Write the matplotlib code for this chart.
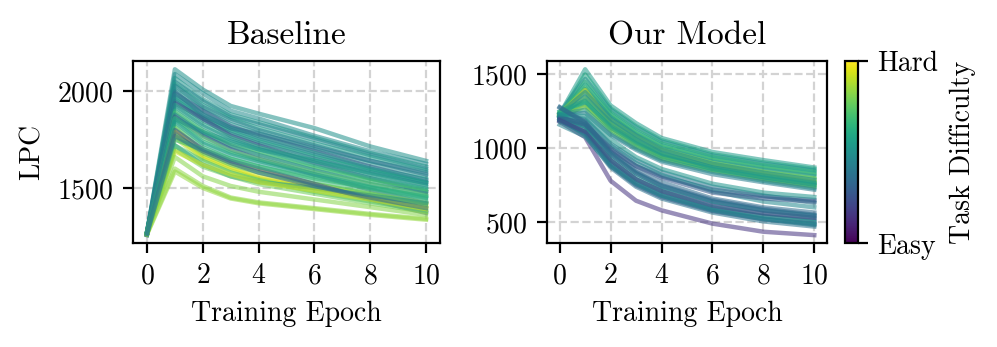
import numpy as np
import matplotlib
matplotlib.use("Agg")
import matplotlib.pyplot as plt
from matplotlib.cm import ScalarMappable
from matplotlib.colors import Normalize

plt.rcParams['font.family'] = 'serif'
plt.rcParams['font.serif'] = ['cmr10']
plt.rcParams['mathtext.fontset'] = 'cm'
plt.rcParams['axes.formatter.use_mathtext'] = True

# Training epochs where LPC was measured
epochs = [0, 1, 2, 3, 4, 6, 8, 10]

# Baseline: task difficulty (0 = easy, 1 = hard) and LPC per epoch
baseline_difficulty = [0.50, 0.48, 0.52, 0.46, 0.55, 0.44, 0.50, 0.30, 0.53, 0.47,
                       0.58, 0.42, 0.25, 0.60, 0.50, 0.65, 0.70, 0.45, 0.28, 0.72,
                       0.62, 0.55, 0.90, 0.68, 0.93, 0.95, 0.88, 0.75, 0.22, 0.48,
                       0.70, 0.78, 0.92, 0.82, 0.83, 0.84, 0.40, 0.52, 0.66, 0.35]
baseline_lpc = [
    [1265, 2115, 2010, 1925, 1885, 1810, 1715, 1640],
    [1260, 2090, 1990, 1900, 1860, 1770, 1690, 1625],
    [1270, 2070, 1960, 1880, 1840, 1760, 1680, 1610],
    [1258, 2050, 1950, 1870, 1830, 1750, 1670, 1600],
    [1262, 2040, 1930, 1860, 1810, 1730, 1660, 1590],
    [1268, 2030, 1920, 1850, 1800, 1720, 1640, 1580],
    [1255, 2010, 1905, 1830, 1785, 1700, 1625, 1560],
    [1265, 1990, 1900, 1820, 1770, 1690, 1610, 1540],
    [1272, 1980, 1880, 1810, 1760, 1680, 1600, 1545],
    [1260, 1970, 1870, 1800, 1750, 1670, 1600, 1530],
    [1266, 1960, 1860, 1790, 1740, 1660, 1590, 1525],
    [1262, 1950, 1850, 1780, 1730, 1650, 1575, 1515],
    [1258, 1940, 1860, 1770, 1720, 1630, 1550, 1480],
    [1270, 1930, 1830, 1760, 1710, 1640, 1570, 1505],
    [1264, 1920, 1820, 1750, 1700, 1620, 1550, 1495],
    [1260, 1900, 1800, 1730, 1690, 1610, 1545, 1490],
    [1268, 1890, 1790, 1720, 1675, 1600, 1535, 1480],
    [1262, 1880, 1780, 1715, 1670, 1590, 1520, 1470],
    [1256, 1870, 1770, 1700, 1650, 1570, 1490, 1420],
    [1266, 1860, 1760, 1690, 1650, 1580, 1520, 1460],
    [1262, 1850, 1740, 1680, 1640, 1570, 1505, 1450],
    [1270, 1840, 1730, 1670, 1630, 1560, 1500, 1445],
    [1264, 1810, 1690, 1630, 1590, 1520, 1470, 1420],
    [1260, 1820, 1710, 1650, 1610, 1540, 1480, 1430],
    [1262, 1790, 1670, 1610, 1560, 1510, 1460, 1410],
    [1266, 1770, 1660, 1600, 1550, 1500, 1455, 1400],
    [1258, 1760, 1650, 1590, 1545, 1495, 1445, 1395],
    [1264, 1780, 1680, 1620, 1580, 1520, 1465, 1415],
    [1260, 1800, 1700, 1640, 1600, 1520, 1440, 1370],
    [1268, 1720, 1620, 1560, 1530, 1500, 1460, 1420],
    [1262, 1720, 1640, 1580, 1540, 1480, 1430, 1380],
    [1266, 1700, 1610, 1560, 1520, 1470, 1420, 1375],
    [1260, 1690, 1620, 1570, 1530, 1485, 1440, 1390],
    [1264, 1660, 1560, 1510, 1480, 1440, 1400, 1360],
    [1262, 1600, 1510, 1450, 1425, 1395, 1365, 1340],
    [1258, 1585, 1500, 1445, 1420, 1390, 1360, 1335],
    [1268, 2000, 1880, 1810, 1780, 1710, 1640, 1570],
    [1260, 1860, 1790, 1740, 1700, 1640, 1580, 1525],
    [1264, 1750, 1700, 1650, 1610, 1550, 1500, 1455],
    [1262, 1770, 1690, 1630, 1580, 1510, 1450, 1395],
]

# Our model
ours_difficulty = [0.55, 0.60, 0.50, 0.65, 0.58, 0.70, 0.52, 0.92, 0.88, 0.80,
                   0.75, 0.62, 0.48, 0.45, 0.68, 0.85, 0.55, 0.50, 0.42, 0.57,
                   0.15, 0.30, 0.25, 0.22, 0.35, 0.40, 0.45, 0.48, 0.50, 0.43,
                   0.38, 0.47, 0.28, 0.52, 0.20, 0.33, 0.44, 0.36]
ours_lpc = [
    [1230, 1535, 1290, 1170, 1070, 975, 920, 870],
    [1220, 1500, 1270, 1150, 1055, 960, 905, 860],
    [1240, 1470, 1260, 1140, 1045, 950, 895, 850],
    [1210, 1450, 1240, 1120, 1030, 940, 885, 840],
    [1225, 1430, 1230, 1110, 1020, 930, 875, 830],
    [1235, 1410, 1220, 1100, 1010, 920, 865, 820],
    [1215, 1400, 1210, 1090, 1000, 910, 855, 810],
    [1230, 1395, 1170, 1050, 960, 890, 825, 775],
    [1220, 1340, 1160, 1040, 950, 880, 820, 770],
    [1240, 1370, 1190, 1080, 990, 900, 840, 795],
    [1210, 1330, 1180, 1070, 980, 890, 835, 790],
    [1225, 1310, 1150, 1050, 960, 870, 815, 765],
    [1235, 1380, 1200, 1085, 990, 895, 835, 785],
    [1205, 1290, 1140, 1030, 945, 860, 800, 750],
    [1245, 1300, 1130, 1020, 935, 855, 795, 745],
    [1220, 1280, 1120, 1010, 930, 850, 790, 740],
    [1230, 1260, 1100, 1000, 920, 840, 780, 730],
    [1215, 1350, 1175, 1060, 970, 870, 805, 755],
    [1225, 1240, 1090, 990, 910, 825, 770, 720],
    [1250, 1320, 1140, 1035, 950, 860, 805, 760],
    [1180, 1075, 780, 645, 580, 490, 435, 412],
    [1195, 1150, 990, 880, 810, 720, 675, 650],
    [1200, 1120, 900, 770, 690, 590, 540, 510],
    [1185, 1110, 880, 750, 670, 575, 520, 490],
    [1210, 1170, 980, 850, 770, 660, 600, 565],
    [1220, 1200, 1030, 920, 840, 740, 680, 630],
    [1205, 1160, 960, 830, 740, 640, 580, 545],
    [1215, 1150, 930, 800, 720, 620, 560, 520],
    [1195, 1130, 920, 790, 710, 600, 540, 500],
    [1190, 1100, 890, 760, 680, 580, 520, 480],
    [1200, 1090, 870, 740, 660, 565, 505, 470],
    [1225, 1190, 1020, 900, 820, 710, 640, 600],
    [1210, 1160, 1000, 880, 800, 700, 660, 640],
    [1230, 1220, 1060, 940, 860, 760, 700, 670],
    [1190, 1110, 920, 790, 710, 610, 560, 530],
    [1275, 1180, 970, 840, 750, 650, 590, 550],
    [1160, 1080, 880, 760, 680, 585, 525, 485],
    [1280, 1170, 960, 830, 745, 640, 580, 540],
]

cmap = plt.get_cmap('viridis')
norm = Normalize(0, 1)

fig = plt.figure(figsize=(4.985, 1.735), dpi=200)
ax1 = fig.add_axes([0.1334, 0.2985, 0.3079, 0.5257])
ax2 = fig.add_axes([0.5486, 0.2985, 0.2809, 0.5257])
cax = fig.add_axes([0.8475, 0.2985, 0.0130, 0.5257])

for ax, diff, lpc, title in [(ax1, baseline_difficulty, baseline_lpc, 'Baseline'),
                             (ax2, ours_difficulty, ours_lpc, 'Our Model')]:
    for d, row in zip(diff, lpc):
        ax.plot(epochs, row, color=cmap(norm(d)), alpha=0.55, lw=1.6)
    ax.set_title(title, fontsize=12)
    ax.set_xlabel('Training Epoch', fontsize=10)
    ax.set_xticks([0, 2, 4, 6, 8, 10])
    ax.grid(True, ls='--', color='lightgray', lw=0.8)
    ax.tick_params(labelsize=10)

ax1.set_ylabel('LPC', fontsize=10)
ax1.set_yticks([1500, 2000])
ax2.set_yticks([500, 1000, 1500])

cb = fig.colorbar(ScalarMappable(norm=norm, cmap=cmap), cax=cax, ticks=[0, 1])
cb.ax.set_yticklabels(['Easy', 'Hard'])
cb.ax.tick_params(labelsize=10)
cb.set_label('Task Difficulty', fontsize=10)

fig.savefig('out.png', dpi=200)
